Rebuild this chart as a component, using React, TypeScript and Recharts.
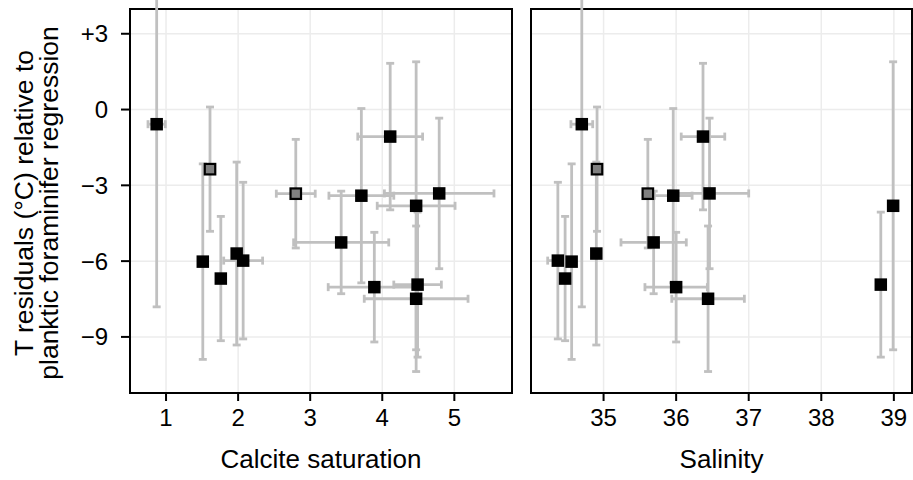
import React from 'react';
import { ScatterChart, Scatter, XAxis, YAxis, CartesianGrid, ErrorBar, ReferenceArea } from 'recharts';

// one entry per sample, same order in every array
const calcite = [0.87, 1.61, 2.8, 3.71, 4.11, 4.79, 4.47, 4.49, 4.47, 3.89, 3.43, 1.51, 1.76, 1.98, 2.07];
const calciteErr = [0.12, 0, 0.27, 0.45, 0.45, 0.76, 0.54, 0.33, 0.72, 0.64, 0.66, 0, 0, 0, 0.27];
const salinity = [34.7, 34.91, 35.61, 35.96, 36.37, 36.46, 38.99, 38.82, 36.44, 36.0, 35.69, 34.56, 34.47, 34.9, 34.37];
const salinityErr = [0.15, 0, 0, 0.26, 0.3, 0.54, 0, 0, 0.5, 0.43, 0.45, 0, 0, 0, 0.14];
const residual = [-0.58, -2.36, -3.33, -3.41, -1.07, -3.32, -3.81, -6.93, -7.49, -7.03, -5.26, -6.02, -6.69, -5.7, -5.98];
const residualErr = [7.23, 2.46, 2.15, 3.45, 2.9, 2.98, 5.7, 2.87, 2.88, 2.17, 2.03, 3.87, 2.46, 3.62, 3.1];
const isGrey = [false, true, true, false, false, false, false, false, false, false, false, false, false, false, false];

const calciteTicks = [1, 2, 3, 4, 5];
const salinityTicks = [35, 36, 37, 38, 39];
const residualTicks = [3, 0, -3, -6, -9];

const calciteDomain = [0.5, 5.8];
const salinityDomain = [34.0, 39.25];
const residualDomain = [-11.22, 3.98];

const data = residual.map((r, i) => ({
  calcite: calcite[i],
  calciteErr: calciteErr[i],
  salinity: salinity[i],
  salinityErr: salinityErr[i],
  residual: r,
  residualErr: residualErr[i],
  grey: isGrey[i],
}));

const FONT = '"Liberation Sans", Arial, Helvetica, sans-serif';
const ERR = '#c0c0c0';
const GRID = '#ececec';

const fmtResidual = (v: number) => (v > 0 ? `+${v}` : v < 0 ? `\u2212${-v}` : '0');

const SquareDot = (props: any) => {
  const { cx, cy, payload } = props;
  if (cx == null || cy == null) return null;
  if (payload.grey) {
    const s = 10.5;
    return <rect x={cx - s / 2} y={cy - s / 2} width={s} height={s} fill="#808080" stroke="#000" strokeWidth={2.2} />;
  }
  const s = 12.5;
  return <rect x={cx - s / 2} y={cy - s / 2} width={s} height={s} fill="#000" />;
};

const xLabel = (text: string) => (props: any) => {
  const vb = props.viewBox || {};
  return (
    <text x={vb.x + vb.width / 2} y={468} textAnchor="middle" fontSize={26} fontFamily={FONT} fill="#000">
      {text}
    </text>
  );
};

const yLabel = (props: any) => {
  const vb = props.viewBox || {};
  const cy = (vb.y ?? 9) + (vb.height ?? 384) / 2 + 2;
  return (
    <g fontSize={26.5} fontFamily={FONT} fill="#000">
      <text x={33} y={cy} textAnchor="middle" transform={`rotate(-90, 33, ${cy})`}>
        T residuals (°C) relative to
      </text>
      <text x={58} y={cy} textAnchor="middle" transform={`rotate(-90, 58, ${cy})`}>
        planktic foraminifer regression
      </text>
    </g>
  );
};

const tickStyle = { fontSize: 24, fill: '#000', fontFamily: FONT };

function Panel({
  xKey,
  xErrKey,
  domain,
  ticks,
  label,
  withY,
  width,
  margin,
}: {
  xKey: string;
  xErrKey: string;
  domain: number[];
  ticks: number[];
  label: string;
  withY: boolean;
  width: number;
  margin: { top: number; right: number; bottom: number; left: number };
}) {
  return (
    <ScatterChart width={width} height={480} margin={margin}>
      <CartesianGrid stroke={GRID} strokeWidth={1.5} />
      <XAxis
        type="number"
        dataKey={xKey}
        domain={domain}
        ticks={ticks}
        allowDataOverflow
        axisLine={false}
        tickLine={{ stroke: '#000', strokeWidth: 2 }}
        tickSize={8}
        tickMargin={8}
        tick={tickStyle}
        height={87}
        label={xLabel(label)}
      />
      <YAxis
        type="number"
        dataKey="residual"
        domain={residualDomain}
        ticks={residualTicks}
        allowDataOverflow
        hide={!withY}
        axisLine={false}
        tickLine={{ stroke: '#000', strokeWidth: 2 }}
        tickSize={9}
        tickMargin={13}
        tick={tickStyle}
        tickFormatter={fmtResidual}
        width={130}
        label={withY ? yLabel : undefined}
      />
      <Scatter data={data} shape={SquareDot} isAnimationActive={false}>
        <ErrorBar dataKey="residualErr" direction="y" width={4} stroke={ERR} strokeWidth={2.8} />
        <ErrorBar dataKey={xErrKey} direction="x" width={4} stroke={ERR} strokeWidth={2.8} />
      </Scatter>
      <ReferenceArea
        x1={domain[0]}
        x2={domain[1]}
        y1={residualDomain[0]}
        y2={residualDomain[1]}
        fill="none"
        fillOpacity={0}
        stroke="#000"
        strokeWidth={2}
        ifOverflow="visible"
      />
    </ScatterChart>
  );
}

export default function App() {
  return (
    <div style={{ position: 'absolute', left: 0, top: 0, width: 913, height: 480, background: '#fff' }}>
      <div style={{ position: 'absolute', left: 0, top: 0 }}>
        <Panel
          xKey="calcite"
          xErrKey="calciteErr"
          domain={calciteDomain}
          ticks={calciteTicks}
          label="Calcite saturation"
          withY
          width={520}
          margin={{ top: 9, right: 8, bottom: 0, left: 0 }}
        />
      </div>
      <div style={{ position: 'absolute', left: 520, top: 0 }}>
        <Panel
          xKey="salinity"
          xErrKey="salinityErr"
          domain={salinityDomain}
          ticks={salinityTicks}
          label="Salinity"
          withY={false}
          width={393}
          margin={{ top: 9, right: 1, bottom: 0, left: 11 }}
        />
      </div>
    </div>
  );
}
